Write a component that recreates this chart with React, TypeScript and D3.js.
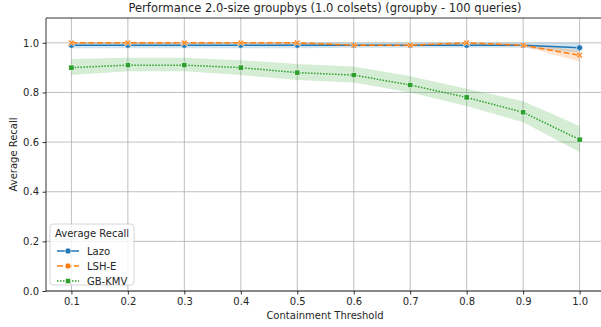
import React, { useEffect, useRef } from 'react';
import * as d3 from 'd3';

const thresholds = [0.1, 0.2, 0.3, 0.4, 0.5, 0.6, 0.7, 0.8, 0.9, 1.0];
const yTicks = [0.0, 0.2, 0.4, 0.6, 0.8, 1.0];

const lazoMean = [0.99, 0.99, 0.99, 0.99, 0.99, 0.99, 0.99, 0.99, 0.99, 0.98];
const lazoLow = [0.978, 0.978, 0.978, 0.978, 0.978, 0.98, 0.98, 0.98, 0.98, 0.96];
const lazoHigh = [1.0, 1.0, 1.0, 1.0, 1.0, 1.0, 1.0, 1.0, 1.0, 1.0];

const lshMean = [1.0, 1.0, 1.0, 1.0, 1.0, 0.99, 0.99, 1.0, 0.99, 0.95];
const lshLow = [0.995, 0.995, 0.995, 0.995, 0.99, 0.985, 0.985, 0.99, 0.985, 0.925];
const lshHigh = [1.0, 1.0, 1.0, 1.0, 1.0, 0.995, 0.995, 1.0, 0.995, 0.97];

const kmvMean = [0.9, 0.91, 0.91, 0.9, 0.88, 0.87, 0.83, 0.78, 0.72, 0.61];
const kmvLow = [0.87, 0.885, 0.885, 0.87, 0.85, 0.84, 0.8, 0.745, 0.68, 0.56];
const kmvHigh = [0.935, 0.94, 0.94, 0.93, 0.915, 0.905, 0.865, 0.815, 0.765, 0.665];

const series = [
  { name: 'Lazo', mean: lazoMean, low: lazoLow, high: lazoHigh, color: '#1f77b4', dash: '', marker: 'circle' },
  { name: 'LSH-E', mean: lshMean, low: lshLow, high: lshHigh, color: '#ff7f0e', dash: '6,2.5', marker: 'x' },
  { name: 'GB-KMV', mean: kmvMean, low: kmvLow, high: kmvHigh, color: '#2ca02c', dash: '1.5,1.5', marker: 'square' },
];

const WIDTH = 601;
const HEIGHT = 327;

export default function App() {
  const svgRef = useRef<SVGSVGElement>(null);

  useEffect(() => {
    if (!svgRef.current) return;
    const margin = { top: 18, right: -4, bottom: 36, left: 46 };
    const svg = d3.select(svgRef.current);
    svg.selectAll('*').remove();

    const x = d3.scaleLinear().domain([0.055, 1.045]).range([margin.left, WIDTH - margin.right]);
    const y = d3.scaleLinear().domain([0, 1.1]).range([HEIGHT - margin.bottom, margin.top]);
    const font = 'DejaVu Sans, sans-serif';

    svg.append('rect').attr('width', WIDTH).attr('height', HEIGHT).attr('fill', '#fff');

    // grid
    const grid = svg.append('g').attr('stroke', '#b0b0b0').attr('stroke-width', 0.8);
    grid.selectAll('.vx').data(thresholds).enter().append('line')
      .attr('x1', (d) => x(d)).attr('x2', (d) => x(d))
      .attr('y1', y(0)).attr('y2', y(1.1));
    grid.selectAll('.hy').data(yTicks).enter().append('line')
      .attr('y1', (d) => y(d)).attr('y2', (d) => y(d))
      .attr('x1', x.range()[0]).attr('x2', x.range()[1]);

    // bands
    series.forEach((s) => {
      const area = d3.area<number>()
        .x((_, i) => x(thresholds[i]))
        .y0((_, i) => y(s.low[i]))
        .y1((_, i) => y(s.high[i]));
      svg.append('path').attr('d', area(s.mean) as string).attr('fill', s.color).attr('opacity', 0.2);
    });

    // lines and markers
    const drawMarker = (g: d3.Selection<SVGGElement, unknown, null, undefined>, m: string, color: string, cx: number, cy: number, r: number) => {
      if (m === 'circle') {
        g.append('circle').attr('cx', cx).attr('cy', cy).attr('r', r).attr('fill', color).attr('stroke', '#fff').attr('stroke-width', 0.6);
      } else if (m === 'square') {
        const h = r * 0.88;
        g.append('rect').attr('x', cx - h).attr('y', cy - h).attr('width', 2 * h).attr('height', 2 * h)
          .attr('fill', color).attr('stroke', '#fff').attr('stroke-width', 0.6);
      } else {
        const a = r, b = r * 0.4;
        const p = `M${cx - a},${cy - a + b}L${cx - a + b},${cy - a}L${cx},${cy - b}L${cx + a - b},${cy - a}L${cx + a},${cy - a + b}L${cx + b},${cy}L${cx + a},${cy + a - b}L${cx + a - b},${cy + a}L${cx},${cy + b}L${cx - a + b},${cy + a}L${cx - a},${cy + a - b}L${cx - b},${cy}Z`;
        g.append('path').attr('d', p).attr('fill', color).attr('stroke', '#fff').attr('stroke-width', 0.6);
      }
    };

    series.forEach((s) => {
      const line = d3.line<number>().x((_, i) => x(thresholds[i])).y((d) => y(d));
      svg.append('path').attr('d', line(s.mean) as string).attr('fill', 'none')
        .attr('stroke', s.color).attr('stroke-width', 1.5).attr('stroke-dasharray', s.dash || null);
      const g = svg.append('g');
      s.mean.forEach((v, i) => drawMarker(g, s.marker, s.color, x(thresholds[i]), y(v), 3));
    });

    // spines
    svg.append('line').attr('x1', margin.left).attr('x2', margin.left).attr('y1', y(0)).attr('y2', y(1.1)).attr('stroke', '#000').attr('stroke-width', 0.8);
    svg.append('line').attr('x1', margin.left).attr('x2', WIDTH).attr('y1', y(0)).attr('y2', y(0)).attr('stroke', '#000').attr('stroke-width', 0.8);
    svg.append('line').attr('x1', margin.left).attr('x2', WIDTH).attr('y1', y(1.1)).attr('y2', y(1.1)).attr('stroke', '#000').attr('stroke-width', 0.8);

    // axes
    const xAxis = svg.append('g').attr('transform', `translate(0,${y(0)})`)
      .call(d3.axisBottom(x).tickValues(thresholds).tickFormat(d3.format('.1f')).tickSize(3.5).tickPadding(3.5));
    const yAxis = svg.append('g').attr('transform', `translate(${margin.left},0)`)
      .call(d3.axisLeft(y).tickValues(yTicks).tickFormat(d3.format('.1f')).tickSize(3.5).tickPadding(3.5));
    [xAxis, yAxis].forEach((a) => {
      a.select('.domain').remove();
      a.selectAll('text').attr('font-family', font).attr('font-size', 10).attr('fill', '#262626');
      a.selectAll('line').attr('stroke', '#000').attr('stroke-width', 0.8);
    });

    // labels
    svg.append('text').attr('x', 325).attr('y', 12).attr('text-anchor', 'middle')
      .attr('font-family', font).attr('font-size', 11.5).attr('fill', '#262626')
      .text('Performance 2.0-size groupbys (1.0 colsets) (groupby - 100 queries)');
    svg.append('text').attr('x', 325).attr('y', 319).attr('text-anchor', 'middle')
      .attr('font-family', font).attr('font-size', 10).attr('fill', '#262626').text('Containment Threshold');
    svg.append('text').attr('transform', `translate(17,${y(0.55)}) rotate(-90)`).attr('text-anchor', 'middle')
      .attr('font-family', font).attr('font-size', 10).attr('fill', '#262626').text('Average Recall');

    // legend
    const lg = svg.append('g').attr('transform', 'translate(50,224)');
    lg.append('rect').attr('width', 84).attr('height', 61).attr('rx', 3)
      .attr('fill', '#fff').attr('fill-opacity', 0.8).attr('stroke', '#ccc').attr('stroke-width', 0.8);
    lg.append('text').attr('x', 5).attr('y', 13).attr('font-family', font).attr('font-size', 10).attr('fill', '#262626').text('Average Recall');
    series.forEach((s, i) => {
      const ry = 27 + i * 15;
      lg.append('line').attr('x1', 7).attr('x2', 29).attr('y1', ry).attr('y2', ry)
        .attr('stroke', s.color).attr('stroke-width', 1.5).attr('stroke-dasharray', s.dash || null);
      const mg = lg.append('g');
      drawMarker(mg, s.marker === 'x' ? 'circle' : s.marker, s.color, 18, ry, 3);
      lg.append('text').attr('x', 37).attr('y', ry + 3.5).attr('font-family', font).attr('font-size', 10).attr('fill', '#262626').text(s.name);
    });
  }, []);

  return (
    <svg ref={svgRef} width={WIDTH} height={HEIGHT} style={{ position: 'absolute', left: 0, top: 0 }} />
  );
}
